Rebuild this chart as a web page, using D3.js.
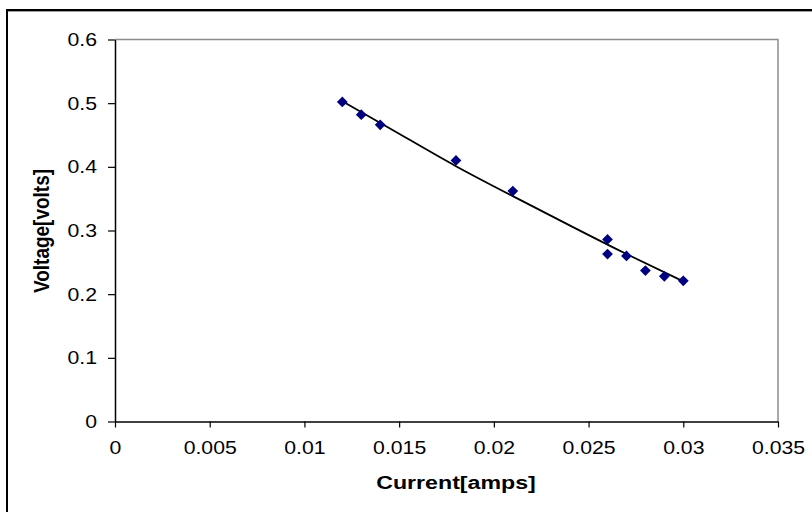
<!DOCTYPE html>
<html>
<head>
<meta charset="utf-8">
<script src="https://cdn.jsdelivr.net/npm/d3@7"></script>
<style>
  html, body { margin: 0; padding: 0; background: #fff; }
  svg { display: block; }
  text { font-family: "Liberation Sans", Arial, sans-serif; fill: #000; }
</style>
</head>
<body>
<svg id="chart" width="812" height="512"></svg>
<script>
// Measured current (A) and voltage (V) readings
const current = [0.012, 0.013, 0.014, 0.018, 0.021, 0.026, 0.026, 0.027, 0.028, 0.029, 0.030];
const voltage = [0.502, 0.482, 0.466, 0.410, 0.362, 0.286, 0.263, 0.260, 0.237, 0.228, 0.221];

// Trendline values along the measured current range
const trendCurrent = [0.012, 0.015, 0.018, 0.021, 0.024, 0.027, 0.030];
const trendVoltage = [0.503, 0.452, 0.401, 0.354, 0.308, 0.263, 0.220];

const xTicks = [0, 0.005, 0.01, 0.015, 0.02, 0.025, 0.03, 0.035];
const yTicks = [0, 0.1, 0.2, 0.3, 0.4, 0.5, 0.6];
const xTickLabels = ["0", "0.005", "0.01", "0.015", "0.02", "0.025", "0.03", "0.035"];
const yTickLabels = ["0", "0.1", "0.2", "0.3", "0.4", "0.5", "0.6"];

const xTitle = "Current[amps]";
const yTitle = "Voltage[volts]";

const W = 812, H = 512;
const plot = { left: 115, right: 778, top: 39.5, bottom: 421.5 };
const textStretch = 1.18;   // text is set slightly wide
const fontSize = 18;
const titleSize = 19;
const titleStretch = 1.22;

const svg = d3.select("#chart");
svg.append("rect").attr("width", W).attr("height", H).attr("fill", "#fff");

// chart frame (top and left edges of the chart object)
svg.append("path")
  .attr("d", `M7,${H} V10 H${W}`)
  .attr("fill", "none").attr("stroke", "#000").attr("stroke-width", 2);
svg.append("path")
  .attr("d", `M8,11.5 H${W}`)
  .attr("stroke", "#a0a0a0").attr("stroke-width", 1);

const x = d3.scaleLinear().domain([0, 0.035]).range([plot.left, plot.right]);
const y = d3.scaleLinear().domain([0, 0.6]).range([plot.bottom, plot.top]);

// plot area border (top and right in grey)
svg.append("path")
  .attr("d", `M${plot.left},${plot.top} H${plot.right} V${plot.bottom}`)
  .attr("fill", "none").attr("stroke", "#8c8c8c").attr("stroke-width", 1.5);

function stretch(sel) {
  sel.each(function () {
    const t = d3.select(this);
    const tx = +t.attr("x") || 0;
    t.attr("transform", `translate(${tx},0) scale(${textStretch},1) translate(${-tx},0)`);
  });
}

// x axis
const gx = svg.append("g")
  .attr("transform", `translate(0,${plot.bottom})`)
  .call(d3.axisBottom(x).tickValues(xTicks)
    .tickFormat((d, i) => xTickLabels[i])
    .tickSize(6).tickPadding(14).tickSizeOuter(0));
gx.select(".domain").attr("stroke", "#000").attr("stroke-width", 1.5);
gx.selectAll(".tick line").attr("stroke", "#000").attr("stroke-width", 1.2);
gx.selectAll(".tick text")
  .attr("font-size", fontSize).attr("font-family", "Liberation Sans, Arial, sans-serif")
  .attr("dy", "0.71em").attr("fill", "#000");
stretch(gx.selectAll(".tick text"));

// y axis
const gy = svg.append("g")
  .attr("transform", `translate(${plot.left},0)`)
  .call(d3.axisLeft(y).tickValues(yTicks)
    .tickFormat((d, i) => yTickLabels[i])
    .tickSize(7).tickPadding(11).tickSizeOuter(0));
gy.select(".domain").attr("stroke", "#000").attr("stroke-width", 1.5);
gy.selectAll(".tick line").attr("stroke", "#000").attr("stroke-width", 1.2);
gy.selectAll(".tick text")
  .attr("font-size", fontSize).attr("font-family", "Liberation Sans, Arial, sans-serif")
  .attr("dy", "0.34em").attr("fill", "#000");
stretch(gy.selectAll(".tick text"));

// trendline
const trend = trendCurrent.map((c, i) => [c, trendVoltage[i]]);
svg.append("path")
  .datum(trend)
  .attr("d", d3.line().x(d => x(d[0])).y(d => y(d[1])).curve(d3.curveNatural))
  .attr("fill", "none").attr("stroke", "#000").attr("stroke-width", 1.8);

// data markers (diamonds)
const pts = current.map((c, i) => ({ c, v: voltage[i] }));
svg.append("g").selectAll("path")
  .data(pts).join("path")
  .attr("transform", d => `translate(${x(d.c)},${y(d.v)}) rotate(45)`)
  .attr("d", d3.symbol().type(d3.symbolSquare).size(58))
  .attr("fill", "#000080");

// axis titles
svg.append("text")
  .attr("transform", `translate(456,489) scale(${titleStretch},1)`)
  .attr("text-anchor", "middle")
  .attr("font-size", titleSize).attr("font-weight", "bold")
  .text(xTitle);

svg.append("text")
  .attr("transform", `translate(49,231) scale(${textStretch},1) rotate(-90)`)
  .attr("text-anchor", "middle")
  .attr("font-size", titleSize).attr("font-weight", "bold")
  .text(yTitle);
</script>
</body>
</html>
